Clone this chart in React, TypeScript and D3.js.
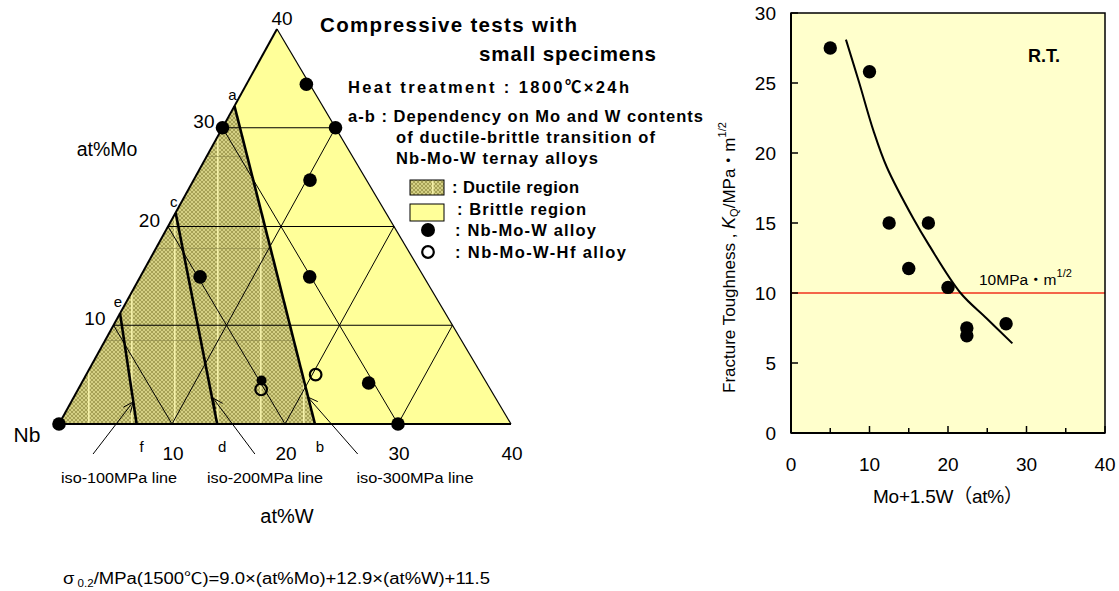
import React from 'react';
import * as d3 from 'd3';

// ---------- Ternary diagram data (W, Mo in at%) ----------
const moTicks = [10, 20, 30];
const wTicks = [10, 20, 30, 40];
const gridLevels = [10, 20, 30];
const alloyW = [0, 0, 10, 5.3, 10.3, 5.3, 15.0, 15.8, 25.4, 30];
const alloyMo = [0, 30, 30, 34.4, 24.7, 14.9, 14.9, 4.4, 4.15, 0];
const hfW = [16.2, 20.3];
const hfMo = [3.5, 5.0];
// iso-strength lines: top letter (on Mo axis), bottom letter (on W axis)
const isoTop = ['a', 'c', 'e'];
const isoBottom = ['b', 'd', 'f'];
const isoMo = [32.2, 21.4, 11.2];
const isoW = [22.65, 14.0, 6.87];
const arrowLabels = ['iso-100MPa line', 'iso-200MPa line', 'iso-300MPa line'];
const arrowTipW = [5.48, 12.36, 20.7];
const arrowTipMo = [2.23, 2.63, 2.73];
const arrowTailW = [4.48, 18.8, 27.9];
const arrowTailMo = [-3.04, -3.04, -3.04];

// ---------- Fracture toughness data ----------
const kqX = [5, 10, 12.5, 17.5, 15, 20, 22.4, 22.4, 27.4];
const kqY = [27.5, 25.8, 15.0, 15.0, 11.75, 10.4, 7.5, 6.95, 7.8];
const fitX = [7.0, 8.7, 10.5, 12.2, 15.6, 17.6, 21.6, 24.9, 28.2];
const fitY = [28.1, 25.0, 21.6, 19.0, 15.3, 13.4, 10.0, 8.2, 6.4];
const xTicks = [0, 10, 20, 30, 40];
const xMinor = [5, 15, 25, 35];
const yTicks = [0, 5, 10, 15, 20, 25, 30];
const threshold = 10;

const FONT = '"Liberation Sans", Arial, "Noto Sans CJK JP", sans-serif';
const BRITTLE = '#ffff99';

export default function App() {
  const wScale = d3.scaleLinear().domain([0, 40]).range([59, 511]);
  const moY = d3.scaleLinear().domain([0, 40]).range([424, 29]);
  const moShift = d3.scaleLinear().domain([0, 40]).range([0, 218]);
  const tern = (w: number, mo: number): [number, number] => [wScale(w) + moShift(mo), moY(mo)];
  const line = d3.line();

  const xS = d3.scaleLinear().domain([0, 40]).range([791, 1105]);
  const yS = d3.scaleLinear().domain([0, 30]).range([433, 13]);
  const fitLine = d3
    .line<number>()
    .x((_, i) => xS(fitX[i]))
    .y((_, i) => yS(fitY[i]))
    .curve(d3.curveCatmullRom.alpha(0.5));

  const gridSegs: [number, number][][] = [];
  gridLevels.forEach((v) => {
    gridSegs.push([tern(0, v), tern(40 - v, v)]); // constant Mo
    gridSegs.push([tern(v, 0), tern(v, 40 - v)]); // constant W
    gridSegs.push([tern(v, 0), tern(0, v)]); // constant Mo+W
  });

  const ductile = [tern(0, 0), tern(0, isoMo[0]), tern(isoW[0], 0)];

  const arrowHead = (tip: [number, number], tail: [number, number]) => {
    const ang = Math.atan2(tail[1] - tip[1], tail[0] - tip[0]);
    const L = 11, a = 0.42;
    const p1: [number, number] = [tip[0] + L * Math.cos(ang + a), tip[1] + L * Math.sin(ang + a)];
    const p2: [number, number] = [tip[0] + L * Math.cos(ang - a), tip[1] + L * Math.sin(ang - a)];
    return line([p1, tip, p2]) as string;
  };

  return (
    <svg width={1119} height={591} style={{ position: 'absolute', left: 0, top: 0, background: '#fff' }} fontFamily={FONT}>
      <defs>
        <pattern id="hatch" width="4" height="4" patternUnits="userSpaceOnUse">
          <rect width="4" height="4" fill="#d4d084" />
          <path d="M0,0 L4,4 M4,0 L0,4" stroke="#9a964a" strokeWidth="0.8" />
        </pattern>
        <pattern id="stripes" width="43" height="92" x="2" y="64" patternUnits="userSpaceOnUse">
          <rect x="0" y="0" width="1.6" height="92" fill="#f4f0a8" />
          <rect x="0" y="0" width="43" height="1" fill="#8a874a" opacity="0.6" />
        </pattern>
      </defs>

      {/* ---------- Ternary ---------- */}
      <path d={line([tern(0, 0), tern(0, 40), tern(40, 0)]) + 'Z'} fill={BRITTLE} />
      <path d={line(ductile) + 'Z'} fill="url(#hatch)" />
      <path d={line(ductile) + 'Z'} fill="url(#stripes)" />
      {gridSegs.map((s, i) => (
        <path key={'g' + i} d={line(s) as string} stroke="#000" strokeWidth={1} fill="none" />
      ))}
      {/* triangle outline */}
      <path d={line([tern(0, 40), tern(40, 0)]) as string} stroke="#000" strokeWidth={1.2} fill="none" />
      <path d={line([tern(0, 0), tern(0, 40)]) as string} stroke="#000" strokeWidth={2} fill="none" />
      <path d={line([tern(0, 0), tern(40, 0)]) as string} stroke="#000" strokeWidth={2.2} fill="none" />
      {/* iso lines */}
      {isoMo.map((m, i) => (
        <path key={'iso' + i} d={line([tern(0, m), tern(isoW[i], 0)]) as string} stroke="#000" strokeWidth={2.6} fill="none" />
      ))}
      {isoMo.map((m, i) => {
        const [x, y] = tern(0, m);
        return (
          <text key={'it' + i} x={x - 2} y={y - 6} fontSize={15} textAnchor="middle">{isoTop[i]}</text>
        );
      })}
      {isoW.map((w, i) => {
        const [x] = tern(w, 0);
        return (
          <text key={'ib' + i} x={x + 5} y={452} fontSize={15} textAnchor="middle">{isoBottom[i]}</text>
        );
      })}
      {/* arrows */}
      {arrowLabels.map((lab, i) => {
        const tip = tern(arrowTipW[i], arrowTipMo[i]);
        const tail = tern(arrowTailW[i], arrowTailMo[i]);
        return (
          <g key={'ar' + i}>
            <path d={line([tail, tip]) as string} stroke="#000" strokeWidth={1} fill="none" />
            <path d={arrowHead(tip, tail)} stroke="#000" strokeWidth={1} fill="none" />
          </g>
        );
      })}
      <text x={119} y={483} fontSize={14} textAnchor="middle" textLength={116} lengthAdjust="spacingAndGlyphs">{arrowLabels[0]}</text>
      <text x={265} y={483} fontSize={14} textAnchor="middle" textLength={116} lengthAdjust="spacingAndGlyphs">{arrowLabels[1]}</text>
      <text x={415} y={483} fontSize={14} textAnchor="middle" textLength={117} lengthAdjust="spacingAndGlyphs">{arrowLabels[2]}</text>

      {/* data points */}
      {alloyW.map((w, i) => {
        const [x, y] = tern(w, alloyMo[i]);
        const nearHf = hfW.some((hw, j) => Math.hypot(hw - w, hfMo[j] - alloyMo[i]) < 2);
        return <circle key={'p' + i} cx={x} cy={y} r={nearHf ? 5 : 6.8} fill="#000" />;
      })}
      {hfW.map((w, i) => {
        const [x, y] = tern(w, hfMo[i]);
        return <circle key={'h' + i} cx={x} cy={y} r={5.8} fill="none" stroke="#000" strokeWidth={2.2} />;
      })}

      {/* axis tick labels */}
      {moTicks.map((v) => {
        const [x, y] = tern(0, v);
        return <text key={'mt' + v} x={x - 8} y={y} fontSize={19} textAnchor="end">{v}</text>;
      })}
      <text x={282} y={25} fontSize={19} textAnchor="middle">40</text>
      {wTicks.map((v) => {
        const [x] = tern(v, 0);
        return <text key={'wt' + v} x={x + 1} y={460} fontSize={19} textAnchor="middle">{v}</text>;
      })}
      <text x={107} y={156} fontSize={19.5} textAnchor="middle">at%Mo</text>
      <text x={287} y={523} fontSize={20} textAnchor="middle">at%W</text>
      <text x={27} y={442} fontSize={21} textAnchor="middle">Nb</text>

      {/* title & notes */}
      <g fontWeight="bold" fill="#000">
        <text x={320} y={32} fontSize={20.5} textLength={257} lengthAdjust="spacing">Compressive tests with</text>
        <text x={479} y={61} fontSize={20.5} textLength={177} lengthAdjust="spacing">small specimens</text>
        <text x={348} y={93} fontSize={16.5} textLength={281} lengthAdjust="spacing">Heat treatment : 1800℃×24h</text>
        <text x={348} y={122} fontSize={16.5} textLength={355} lengthAdjust="spacing">a-b : Dependency on Mo and W contents</text>
        <text x={396} y={143} fontSize={16.5} textLength={259} lengthAdjust="spacing">of ductile-brittle transition of</text>
        <text x={396} y={164} fontSize={16.5} textLength={202} lengthAdjust="spacing">Nb-Mo-W ternay alloys</text>
        <text x={452} y={193} fontSize={16.5} textLength={127} lengthAdjust="spacing">: Ductile region</text>
        <text x={457} y={215} fontSize={16.5} textLength={129} lengthAdjust="spacing">: Brittle region</text>
        <text x={455} y={236} fontSize={16.5} textLength={141} lengthAdjust="spacing">: Nb-Mo-W alloy</text>
        <text x={455} y={258} fontSize={16.5} textLength={171} lengthAdjust="spacing">: Nb-Mo-W-Hf alloy</text>
      </g>
      {/* legend swatches */}
      <rect x={410} y={180} width={34} height={15} fill="url(#hatch)" />
      <rect x={410} y={180} width={34} height={15} fill="url(#stripes)" />
      <rect x={410} y={180} width={34} height={15} fill="none" stroke="#000" strokeWidth={1} />
      <rect x={410} y={204} width={34} height={17} fill={BRITTLE} stroke="#000" strokeWidth={1} />
      <circle cx={428} cy={230} r={7} fill="#000" />
      <circle cx={428} cy={252} r={5.8} fill="none" stroke="#000" strokeWidth={2.2} />

      {/* formula */}
      <text x={63} y={584} fontSize={16} textLength={427} lengthAdjust="spacingAndGlyphs">
        σ<tspan fontSize={10} dy={3}> 0.2</tspan>
        <tspan dy={-3}>/MPa(1500℃)=9.0×(at%Mo)+12.9×(at%W)+11.5</tspan>
      </text>

      {/* ---------- Fracture toughness chart ---------- */}
      <rect x={xS(0)} y={yS(30)} width={xS(40) - xS(0)} height={yS(0) - yS(30)} fill="#ffffcc" />
      <line x1={xS(0)} x2={xS(40)} y1={yS(threshold)} y2={yS(threshold)} stroke="#f0321e" strokeWidth={1.4} />
      <path d={fitLine(fitX) as string} fill="none" stroke="#000" strokeWidth={2} />
      {kqX.map((x, i) => (
        <circle key={'k' + i} cx={xS(x)} cy={yS(kqY[i])} r={6.7} fill="#000" />
      ))}
      <rect x={xS(0)} y={yS(30)} width={xS(40) - xS(0)} height={yS(0) - yS(30)} fill="none" stroke="#000" strokeWidth={1.5} />
      <line x1={xS(0)} x2={xS(0)} y1={yS(0)} y2={yS(30)} stroke="#000" strokeWidth={2} />
      <line x1={xS(0)} x2={xS(40)} y1={yS(0)} y2={yS(0)} stroke="#000" strokeWidth={2} />
      {xTicks.map((v) => (
        <g key={'xt' + v}>
          <line x1={xS(v)} x2={xS(v)} y1={yS(0)} y2={yS(0) - 7} stroke="#000" strokeWidth={1.5} />
          <text x={xS(v)} y={471} fontSize={19} textAnchor="middle">{v}</text>
        </g>
      ))}
      {xMinor.map((v) => (
        <line key={'xm' + v} x1={xS(v)} x2={xS(v)} y1={yS(0)} y2={yS(0) - 5} stroke="#000" strokeWidth={1.5} />
      ))}
      {yTicks.map((v) => (
        <g key={'yt' + v}>
          <line x1={xS(0)} x2={xS(0) + 7} y1={yS(v)} y2={yS(v)} stroke="#000" strokeWidth={1.5} />
          <text x={776} y={yS(v) + 7} fontSize={19} textAnchor="end">{v}</text>
        </g>
      ))}
      <text x={948} y={503} fontSize={19} textAnchor="middle" textLength={150} lengthAdjust="spacing">Mo+1.5W（at%）</text>
      <text transform="translate(735,393) rotate(-90)" fontSize={17}>
        Fracture Toughness ,  <tspan fontStyle="italic" fontSize={18}>K</tspan>
        <tspan fontSize={11} dy={3}>Q</tspan>
        <tspan dy={-3}>/MPa・m</tspan>
        <tspan fontSize={11} dy={-9}>1/2</tspan>
      </text>
      <text x={979} y={285} fontSize={15.5}>
        10MPa・m<tspan fontSize={11} dy={-8}>1/2</tspan>
      </text>
      <text x={1028} y={62} fontSize={18} fontWeight="bold">R.T.</text>
    </svg>
  );
}
